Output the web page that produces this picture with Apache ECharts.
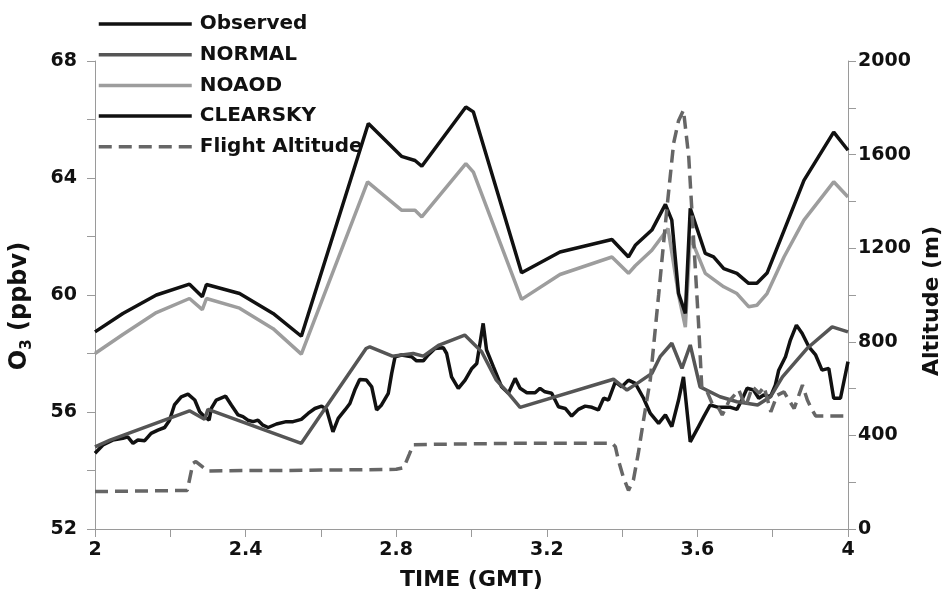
<!DOCTYPE html>
<html><head><meta charset="utf-8">
<script src="https://cdn.jsdelivr.net/npm/echarts@6/dist/echarts.min.js"></script>
<style>html,body{margin:0;padding:0;background:#fff}#c{width:942px;height:602px}</style>
</head><body><div id="c"></div>
<script>
// ---- data (time in GMT hours) ----
const obsTime = [2.0,2.021,2.047,2.074,2.087,2.101,2.114,2.132,2.149,2.167,2.185,2.198,2.211,2.229,2.247,2.265,2.278,2.291,2.303,2.309,2.322,2.347,2.362,2.38,2.393,2.406,2.42,2.433,2.446,2.46,2.482,2.508,2.526,2.548,2.566,2.584,2.602,2.615,2.632,2.646,2.664,2.677,2.69,2.703,2.721,2.735,2.748,2.761,2.779,2.788,2.797,2.814,2.841,2.854,2.872,2.885,2.903,2.925,2.934,2.947,2.965,2.983,3.001,3.014,3.031,3.04,3.058,3.08,3.098,3.116,3.129,3.147,3.169,3.182,3.195,3.213,3.231,3.249,3.266,3.284,3.302,3.32,3.337,3.351,3.364,3.382,3.399,3.417,3.435,3.457,3.475,3.497,3.515,3.532,3.55,3.563,3.581,3.603,3.617,3.634,3.656,3.688,3.705,3.718,3.732,3.749,3.763,3.776,3.794,3.807,3.816,3.834,3.847,3.863,3.878,3.896,3.914,3.931,3.949,3.962,3.98,4.0];
const obsO3 = [54.59,54.87,55.04,55.10,55.15,54.93,55.04,55.02,55.27,55.38,55.47,55.72,56.24,56.52,56.61,56.41,56.01,55.84,55.72,56.12,56.41,56.54,56.24,55.90,55.84,55.72,55.67,55.72,55.55,55.47,55.59,55.67,55.67,55.75,55.95,56.12,56.20,56.09,55.32,55.78,56.07,56.29,56.75,57.11,57.09,56.86,56.07,56.24,56.64,57.32,57.89,57.95,57.89,57.75,57.75,57.95,58.17,58.20,58.00,57.20,56.81,57.09,57.49,57.66,59.03,58.12,57.55,56.86,56.64,57.15,56.81,56.66,56.66,56.81,56.69,56.64,56.18,56.12,55.86,56.09,56.20,56.16,56.07,56.47,56.41,57.03,56.86,57.09,56.98,56.47,55.95,55.61,55.90,55.50,56.41,57.20,54.98,55.50,55.84,56.24,56.16,56.16,56.09,56.41,56.81,56.75,56.47,56.58,56.52,56.92,57.43,57.89,58.46,58.97,58.69,58.23,57.95,57.43,57.49,56.47,56.47,57.72];

const normalTime = [2.0,2.04,2.251,2.291,2.3,2.548,2.72,2.73,2.79,2.845,2.872,2.914,2.982,3.027,3.066,3.098,3.129,3.377,3.413,3.44,3.479,3.501,3.532,3.559,3.581,3.607,3.66,3.705,3.76,3.794,3.826,3.891,3.958,4.0];
const normalO3 = [54.81,55.04,56.04,55.75,56.09,54.93,58.17,58.23,57.91,58.0,57.91,58.29,58.63,58.06,57.09,56.64,56.16,57.12,56.75,56.98,57.32,57.89,58.35,57.49,58.29,56.86,56.52,56.35,56.24,56.52,57.2,58.17,58.91,58.74];

const noaodTime = [2.0,2.074,2.163,2.251,2.285,2.296,2.384,2.473,2.548,2.724,2.814,2.85,2.868,2.985,3.005,3.133,3.235,3.373,3.417,3.435,3.479,3.522,3.55,3.568,3.581,3.621,3.67,3.705,3.736,3.758,3.785,3.83,3.883,3.962,4.0];
const noaodO3 = [58.0,58.65,59.4,59.88,59.5,59.88,59.55,58.85,57.98,63.87,62.9,62.9,62.67,64.49,64.2,59.85,60.7,61.3,60.74,61.0,61.53,62.27,60.0,58.9,61.99,60.74,60.28,60.05,59.6,59.65,60.05,61.3,62.56,63.87,63.35];

const clearTime = [2.0,2.074,2.163,2.251,2.285,2.296,2.384,2.473,2.548,2.726,2.814,2.85,2.868,2.985,3.005,3.133,3.235,3.373,3.417,3.435,3.479,3.515,3.532,3.55,3.568,3.581,3.621,3.643,3.67,3.705,3.736,3.758,3.785,3.83,3.883,3.962,4.0];
const clearO3 = [58.74,59.37,60.0,60.37,59.94,60.36,60.05,59.37,58.59,65.86,64.74,64.6,64.4,66.43,66.26,60.76,61.47,61.9,61.3,61.7,62.22,63.1,62.56,60.05,59.37,62.96,61.42,61.3,60.9,60.74,60.4,60.4,60.75,62.2,63.92,65.57,64.95];

const altTime = [2.0,2.1,2.2,2.245,2.26,2.268,2.29,2.30,2.4,2.5,2.6,2.7,2.8,2.82,2.835,2.845,2.9,3.0,3.1,3.2,3.3,3.374,3.382,3.39,3.403,3.417,3.43,3.443,3.457,3.475,3.497,3.519,3.537,3.55,3.563,3.577,3.59,3.603,3.612,3.626,3.639,3.657,3.666,3.683,3.71,3.728,3.746,3.764,3.777,3.795,3.812,3.83,3.843,3.857,3.879,3.892,3.905,3.914,4.0];
const altMeters = [160,162,164,165,280,288,260,248,250,250,252,253,255,262,320,360,362,364,366,366,366,366,352,295,223,165,209,323,466,640,1000,1370,1650,1745,1790,1590,1234,880,594,586,537,515,487,544,594,522,608,580,608,501,572,586,551,515,615,551,508,483,483];

const seriesNames = ['Observed','NORMAL','NOAOD','CLEARSKY','Flight Altitude'];

const zip = (a, b) => a.map((t, i) => [t, b[i]]);

const FONT = 'DejaVu Sans';
const tickFont = {fontFamily: FONT, fontWeight: 'bold', fontSize: 19, color: '#111'};
const axisGray = '#9a9a9a';

const chart = echarts.init(document.getElementById('c'));
chart.setOption({
  animation: false,
  backgroundColor: '#fff',
  grid: {left: 95, right: 94, top: 61, bottom: 73, outerBoundsMode: 'none', containLabel: false},
  legend: {
    orient: 'vertical', left: 97, top: 14, padding: 0,
    itemWidth: 93, itemHeight: 20, itemGap: 10.7,
    data: seriesNames,
    itemStyle: {color: 'rgba(0,0,0,0)', borderWidth: 0, opacity: 0},
    lineStyle: {width: 3.5},
    textStyle: {fontFamily: FONT, fontWeight: 'bold', fontSize: 20, color: '#111', padding: [0, 0, 0, 3]}
  },
  xAxis: {
    type: 'value', min: 2, max: 4, interval: 0.4,
    name: 'TIME (GMT)', nameLocation: 'middle', nameGap: 40,
    nameTextStyle: {fontFamily: FONT, fontWeight: 'bold', fontSize: 22, color: '#111'},
    axisLine: {onZero: false, lineStyle: {color: axisGray, width: 1}},
    axisTick: {length: 8, lineStyle: {color: axisGray}},
    minorTick: {show: true, splitNumber: 2, length: 8, lineStyle: {color: axisGray}},
    splitLine: {show: false},
    axisLabel: Object.assign({margin: 12}, tickFont)
  },
  yAxis: [{
    type: 'value', min: 52, max: 68, interval: 4, position: 'left',
    name: '{a|O}{s|3}{a| (ppbv)}', nameLocation: 'middle', nameGap: 60, nameRotate: 90,
    nameTextStyle: {padding: [0, 22, 0, 0], rich: {
      a: {fontFamily: FONT, fontWeight: 'bold', fontSize: 24, lineHeight: 30, color: '#111'},
      s: {fontFamily: FONT, fontWeight: 'bold', fontSize: 15, lineHeight: 15, verticalAlign: 'bottom', color: '#111'}
    }},
    axisLine: {show: true, onZero: false, lineStyle: {color: axisGray, width: 1}},
    axisTick: {show: true, length: 8, lineStyle: {color: axisGray}},
    minorTick: {show: true, splitNumber: 2, length: 8, lineStyle: {color: axisGray}},
    splitLine: {show: false},
    axisLabel: Object.assign({margin: 18}, tickFont)
  }, {
    type: 'value', min: 0, max: 2000, interval: 400, position: 'right',
    name: 'Altitude (m)', nameLocation: 'middle', nameGap: 66, nameRotate: 90,
    nameTextStyle: {fontFamily: FONT, fontWeight: 'bold', fontSize: 22, color: '#111', padding: [0, 12, 0, 0]},
    axisLine: {show: true, onZero: false, lineStyle: {color: axisGray, width: 1}},
    axisTick: {show: true, length: 8, lineStyle: {color: axisGray}},
    minorTick: {show: true, splitNumber: 2, length: 8, lineStyle: {color: axisGray}},
    splitLine: {show: false},
    axisLabel: Object.assign({margin: 10, formatter: v => String(v)}, tickFont)
  }],
  series: [
    {name: 'Observed', type: 'line', symbol: 'none', data: zip(obsTime, obsO3), color: '#111',
     lineStyle: {color: '#111', width: 3.5}},
    {name: 'NORMAL', type: 'line', symbol: 'none', data: zip(normalTime, normalO3), color: '#555',
     lineStyle: {color: '#555', width: 3.5}},
    {name: 'NOAOD', type: 'line', symbol: 'none', data: zip(noaodTime, noaodO3), color: '#9d9d9d',
     lineStyle: {color: '#9d9d9d', width: 3.5}},
    {name: 'CLEARSKY', type: 'line', symbol: 'none', data: zip(clearTime, clearO3), color: '#111',
     lineStyle: {color: '#111', width: 3.5}},
    {name: 'Flight Altitude', type: 'line', symbol: 'none', yAxisIndex: 1, data: zip(altTime, altMeters), color: '#666',
     lineStyle: {color: '#666', width: 3.5, type: [13, 7]}}
  ]
});
</script></body></html>
